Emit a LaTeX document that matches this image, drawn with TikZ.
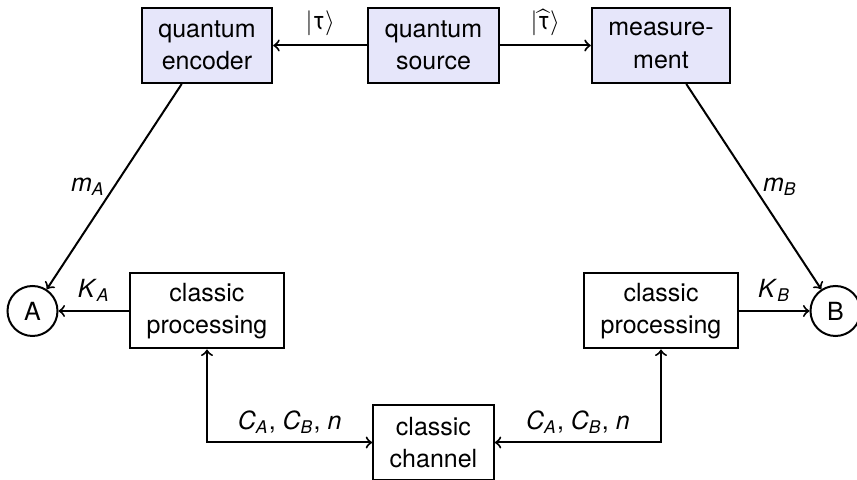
\documentclass[tikz,border=0pt]{standalone}
\usepackage{fontspec}
\setmainfont{TeX Gyre Heros}
\usepackage{tikz}
\usetikzlibrary{positioning}

\definecolor{qfill}{RGB}{230,230,250}
\newcommand{\itsub}[2]{\textit{#1}\textsubscript{\textit{#2}}}

\begin{document}
\begin{tikzpicture}[
  on grid,
  font=\fontsize{10pt}{13pt}\selectfont,
  box/.style={rectangle, draw, thick,
              minimum height=30pt, inner xsep=6.6pt, align=center},
  qbox/.style={box, fill=qfill},
  party/.style={circle, draw, thick, minimum size=20pt, inner sep=0pt},
  arr/.style={->, thick},
  darr/.style={<->, thick}
]
  \useasboundingbox (-173.4pt,-173.8pt) rectangle (169.4pt,18.2pt);

  % quantum part
  \node[qbox] (src) at (0,0) {quantum\\source};
  \node[qbox, left=90.6pt of src]  (enc)  {quantum\\encoder};
  \node[qbox, right=91pt of src]   (meas) {measure-\\ment};

  % classic part
  \node[box, below=106.2pt of enc]    (procA) {classic\\processing};
  \node[box, below=106.2pt of meas]   (procB) {classic\\processing};
  \node[party, left=69.8pt of procA]  (A) {A};
  \node[party, right=69.8pt of procB] (B) {B};
  \node[box, below=158.8pt of src]    (chan)  {classic\\channel};

  \draw[arr] (src) -- node[above] {$\vert\hbox{τ}\rangle$} (enc);
  \draw[arr] (src) -- node[above] {$\vert\widehat{\hbox{τ}}\rangle$} (meas);
  \draw[arr] (enc)  -- node[left]  {\itsub{m}{A}} (A);
  \draw[arr] (meas) -- node[right] {\itsub{m}{B}} (B);
  \draw[arr] (procA) -- node[above] {\itsub{K}{A}} (A);
  \draw[arr] (procB) -- node[above] {\itsub{K}{B}} (B);
  \draw[darr] (procA) |- node[above, pos=0.75]
    {\itsub{C}{A}, \itsub{C}{B}, \textit{n}} (chan);
  \draw[darr] (procB) |- node[above, pos=0.75]
    {\itsub{C}{A}, \itsub{C}{B}, \textit{n}} (chan);
\end{tikzpicture}
\end{document}
